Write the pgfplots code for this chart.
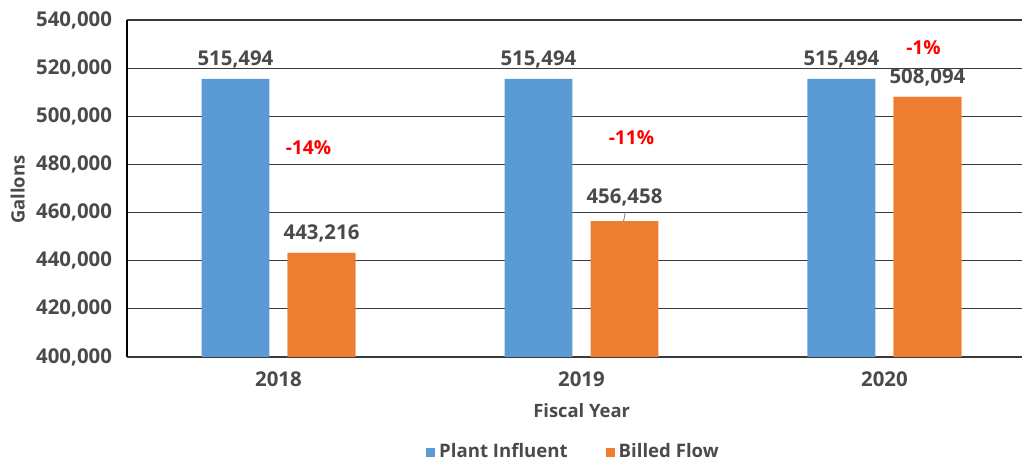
\documentclass[border=0pt]{standalone}
\usepackage{fontspec}
\setmainfont{Open Sans}
\usepackage{pgfplots}
\pgfplotsset{compat=1.18}
\definecolor{cblue}{HTML}{5B9BD5}
\definecolor{corange}{HTML}{ED7D31}
\definecolor{txt}{HTML}{4A4A4A}
\definecolor{gridc}{HTML}{3A3A3A}
\begin{document}
\begin{tikzpicture}
\path (0,0) rectangle (512pt,231pt);
\begin{axis}[
  at={(63.5pt,52.5pt)}, anchor=south west,
  scale only axis, width=447.5pt, height=168.5pt,
  xmin=-0.5, xmax=2.454, ymin=400000, ymax=540000,
  xtick={0,1,2}, xticklabels={2018,2019,2020},
  ytick={400000,420000,...,540000},
  scaled y ticks=false,
  /pgf/number format/fixed,
  /pgf/number format/precision=0,
  /pgf/number format/1000 sep={,},
  /pgf/number format/assume math mode=true,
  tick label style={text=txt, font=\bfseries\fontsize{10.2}{12}\selectfont},
  yticklabel style={xshift=-4pt},
  xticklabel style={yshift=-4pt},
  major tick length=0pt,
  axis x line*=bottom, axis y line*=left,
  x axis line style={draw=gridc, line width=0.6pt},
  y axis line style={draw=black, line width=0.6pt},
  ymajorgrids, grid style={draw=gridc, line width=0.6pt},
  xlabel={Fiscal Year}, ylabel={Gallons},
  label style={text=txt, font=\bfseries\fontsize{9.2}{11}\selectfont},
  x label style={at={(axis description cs:0.508,-0.16)}, anchor=center},
  y label style={at={(axis description cs:-0.122,0.496)}, anchor=center},
  legend style={at={(axis description cs:0.5,-0.282)}, anchor=center, draw=none,
    font=\bfseries\fontsize{9.3}{11}\selectfont, text=txt,
    /tikz/every even column/.append style={column sep=17pt}},
  legend columns=2,
  legend image code/.code={\fill[#1] (0pt,-2.25pt) rectangle (4.5pt,2.25pt);},
  every node near coord/.append style={text=txt, font=\bfseries\fontsize{10.2}{12}\selectfont, yshift=2pt},
  clip=false,
]
\addplot[ybar, bar width=0.224, bar shift=0, fill=cblue, draw=none,
  nodes near coords={\pgfmathprintnumber{\pgfplotspointmeta}}]
  coordinates {(-0.142,515494) (0.858,515494) (1.858,515494)};
\addlegendentry{Plant Influent}
\addplot[ybar, bar width=0.224, bar shift=0, fill=corange, draw=none]
  coordinates {(0.142,443216) (1.142,456458) (2.142,508094)};
\addlegendentry{Billed Flow}
\addplot[ybar, bar width=0.224, bar shift=0, fill=corange, draw=none, forget plot,
  nodes near coords={\pgfmathprintnumber{\pgfplotspointmeta}}]
  coordinates {(0.142,443216) (2.142,508094)};
\node[text=txt, font=\bfseries\fontsize{10.2}{12}\selectfont] at (axis cs:1.142,466469) {456,458};
\draw[gray, line width=0.4pt] (axis cs:1.145,460237) -- (axis cs:1.139,456458);
\node[text=red, font=\bfseries\fontsize{9.6}{11}\selectfont] at (axis cs:0.099,486825) {-14\%};
\node[text=red, font=\bfseries\fontsize{9.6}{11}\selectfont] at (axis cs:1.165,490979) {-11\%};
\node[text=red, font=\bfseries\fontsize{9.6}{11}\selectfont] at (axis cs:2.129,528368) {-1\%};
\end{axis}
\end{tikzpicture}
\end{document}
